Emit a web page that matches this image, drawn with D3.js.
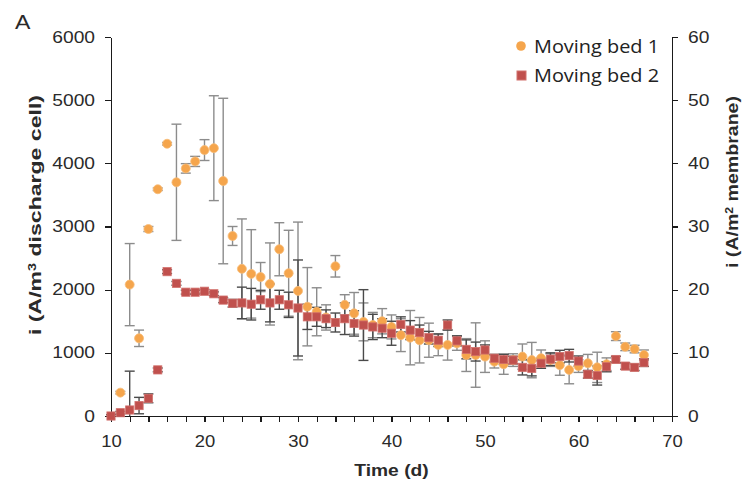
<!DOCTYPE html>
<head>
<meta charset="utf-8">
<style>
body { margin: 0; background: #fff; }
svg text { font-family: "Liberation Sans", Arial, sans-serif; fill: #2a2a2a; }
.axis path, .axis line { stroke: #1a1a1a; stroke-width: 1.3px; shape-rendering: crispEdges; }
.axis text { font-size: 16px; font-family: "Liberation Sans", Arial, sans-serif; }
.ylabel, .xlabel { font-size: 16px; font-weight: bold; }
.legend text { font-family: "Open Sans", "Noto Sans", sans-serif; font-size: 17.5px; fill: #222; }
</style>
<script src="https://cdn.jsdelivr.net/npm/d3@7"></script>
</head>
<body>
<script>
var days = d3.range(10, 68);

// Moving bed 1 (orange circles)
var bed1 = [0, 370, 2080, 1230, 2960, 3590, 4310, 3700, 3920, 4030,
            4210, 4240, 3720, 2850, 2330, 2250, 2200, 2090, 2640, 2260,
            1980, 1730, 1650, 1560, 2370, 1760, 1625, 1490, 1440, 1500,
            1410, 1280, 1240, 1200, 1200, 1125, 1125, 1150, 965, 965,
            940, 860, 820, 885, 940, 885, 915, 885, 805, 730,
            790, 835, 770, 820, 1265, 1095, 1060, 965];
var bed1Err = [0, 20, 650, 130, 40, 20, 20, 920, 75, 80,
               165, 830, 1310, 150, 790, 700, 230, 650, 420, 680,
               1090, 620, 380, 200, 170, 160, 330, 300, 200, 200,
               190, 260, 430, 360, 270, 170, 240, 110, 260, 510,
               250, 100, 160, 100, 200, 280, 130, 100, 160, 220,
               100, 140, 240, 100, 70, 60, 60, 80];

// Moving bed 2 (red squares)
var bed2 = [0, 52, 95, 165, 280, 730, 2285, 2100, 1960, 1960,
            1975, 1935, 1835, 1785, 1790, 1770, 1840, 1790, 1840, 1760,
            1710, 1570, 1570, 1540, 1480, 1540, 1465, 1440, 1410, 1390,
            1310, 1450, 1360, 1320, 1240, 1200, 1440, 1190, 1055, 1020,
            1045, 915, 895, 885, 770, 755, 835, 900, 940, 955,
            870, 660, 640, 780, 895, 790, 770, 845];
var bed2Err = [20, 20, 615, 130, 70, 30, 30, 30, 30, 30,
               30, 30, 40, 60, 250, 250, 150, 300, 150, 200,
               760, 200, 150, 140, 150, 250, 200, 560, 200, 150,
               190, 120, 150, 120, 100, 100, 80, 80, 150, 150,
               80, 60, 80, 60, 120, 120, 80, 100, 100, 100,
               80, 60, 150, 80, 50, 50, 50, 60];

var xTicks = [10, 20, 30, 40, 50, 60, 70];
var yTicksLeft = [0, 1000, 2000, 3000, 4000, 5000, 6000];
var yTicksRight = [0, 10, 20, 30, 40, 50, 60];

var W = 742, H = 480;
var margin = {top: 37, right: 70, bottom: 64, left: 111},
    width = W - margin.left - margin.right,
    height = H - margin.top - margin.bottom;

var orange = "#F5A54C", red = "#C0504D";

var svg = d3.select("body").append("svg")
    .attr("width", W)
    .attr("height", H);

var g = svg.append("g")
    .attr("transform", "translate(" + margin.left + "," + margin.top + ")");

var x = d3.scaleLinear().domain([10, 70]).range([0, width]);
var y = d3.scaleLinear().domain([0, 6000]).range([height, 0]);
var y2 = d3.scaleLinear().domain([0, 60]).range([height, 0]);

// the reference type is a bit wider than Liberation Sans, so stretch it
function widen(sel, k) {
  sel.each(function() {
    var w = this.getComputedTextLength();
    if (w > 0) d3.select(this).attr("textLength", w * k).attr("lengthAdjust", "spacingAndGlyphs");
  });
}

// axes
var xAxis = g.append("g")
    .attr("class", "axis")
    .attr("transform", "translate(0," + height + ")")
    .call(d3.axisBottom(x).tickValues(d3.range(10, 71, 2)).tickSize(6).tickSizeOuter(0)
      .tickFormat(function(d) { return xTicks.indexOf(d) >= 0 ? d : ""; }));
xAxis.selectAll("text").attr("y", 20).attr("dy", "0.71em");
widen(xAxis.selectAll("text"), 1.15);

var yAxis = g.append("g")
    .attr("class", "axis")
    .call(d3.axisLeft(y).tickValues(yTicksLeft).tickFormat(d3.format("d"))
      .tickSize(6).tickSizeOuter(0).tickPadding(10));
widen(yAxis.selectAll("text"), 1.2);

var yAxis2 = g.append("g")
    .attr("class", "axis")
    .attr("transform", "translate(" + width + ",0)")
    .call(d3.axisRight(y2).tickValues(yTicksRight).tickSize(6).tickSizeOuter(0).tickPadding(10));
widen(yAxis2.selectAll("text"), 1.2);

// error bars
function drawSeries(vals, errs, barColor, cls) {
  var data = days.map(function(d, i) { return {day: d, v: vals[i], e: errs[i]}; });
  var eb = g.append("g").attr("class", cls + "-err")
    .selectAll("g").data(data.filter(function(d) { return d.e > 0; }))
    .enter().append("g")
      .attr("stroke", barColor).attr("stroke-width", 1.4);
  function lo(d) { return y(Math.max(0, d.v - d.e)); }
  function hi(d) { return y(d.v + d.e); }
  eb.append("line")
      .attr("x1", function(d) { return x(d.day); })
      .attr("x2", function(d) { return x(d.day); })
      .attr("y1", lo).attr("y2", hi);
  eb.append("line")
      .attr("x1", function(d) { return x(d.day) - 5; })
      .attr("x2", function(d) { return x(d.day) + 5; })
      .attr("y1", hi).attr("y2", hi);
  eb.append("line")
      .attr("x1", function(d) { return x(d.day) - 5; })
      .attr("x2", function(d) { return x(d.day) + 5; })
      .attr("y1", lo).attr("y2", lo)
      .attr("display", function(d) { return d.v - d.e < 0 ? "none" : null; });
  return data;
}

var d1 = drawSeries(bed1, bed1Err, "#8c8c8c", "bed1");
var d2 = drawSeries(bed2, bed2Err, "#4a4a4a", "bed2");

// markers
g.append("g").selectAll("circle")
    .data(d1.filter(function(d) { return d.v > 0; }))
  .enter().append("circle")
    .attr("cx", function(d) { return x(d.day); })
    .attr("cy", function(d) { return y(d.v); })
    .attr("r", 4.5)
    .attr("fill", orange)
    .attr("stroke", "#f8bc78").attr("stroke-width", 0.8);

g.append("g").selectAll("rect")
    .data(d2)
  .enter().append("rect")
    .attr("x", function(d) { return x(d.day) - 4.1; })
    .attr("y", function(d) { return y(d.v) - 4.1; })
    .attr("width", 8.2)
    .attr("height", 8.2)
    .attr("fill", red)
    .attr("stroke", "#d2706c").attr("stroke-width", 0.8);

// axis titles
var xt = svg.append("text")
    .attr("class", "xlabel")
    .attr("x", margin.left + width / 2)
    .attr("y", 476)
    .attr("text-anchor", "middle")
    .text("Time (d)");
widen(xt, 1.2);

svg.append("text")
    .attr("class", "ylabel")
    .attr("transform", "translate(41,215) rotate(-90)")
    .attr("text-anchor", "middle")
    .attr("textLength", 240).attr("lengthAdjust", "spacingAndGlyphs")
    .html('i (A/m<tspan baseline-shift="super" font-size="10px">3</tspan> discharge cell)');

svg.append("text")
    .attr("class", "ylabel")
    .attr("transform", "translate(738,182) rotate(-90)")
    .attr("text-anchor", "middle")
    .attr("textLength", 172).attr("lengthAdjust", "spacingAndGlyphs")
    .html('i (A/m<tspan baseline-shift="super" font-size="10px">2</tspan> membrane)');

var lab = svg.append("text")
    .attr("x", 15)
    .attr("y", 29)
    .attr("font-size", "21px")
    .text("A");
widen(lab, 1.1);

// legend
var legend = svg.append("g").attr("class", "legend");
legend.append("circle")
    .attr("cx", 521).attr("cy", 46).attr("r", 4.8)
    .attr("fill", orange);
legend.append("rect")
    .attr("x", 517).attr("y", 71).attr("width", 9).attr("height", 9)
    .attr("fill", red).attr("stroke", "#d2706c");
legend.append("text").attr("x", 534).attr("y", 52.5)
    .attr("textLength", 125).attr("lengthAdjust", "spacingAndGlyphs").text("Moving bed 1");
legend.append("text").attr("x", 534).attr("y", 81.5)
    .attr("textLength", 125).attr("lengthAdjust", "spacingAndGlyphs").text("Moving bed 2");
</script>
</body>
